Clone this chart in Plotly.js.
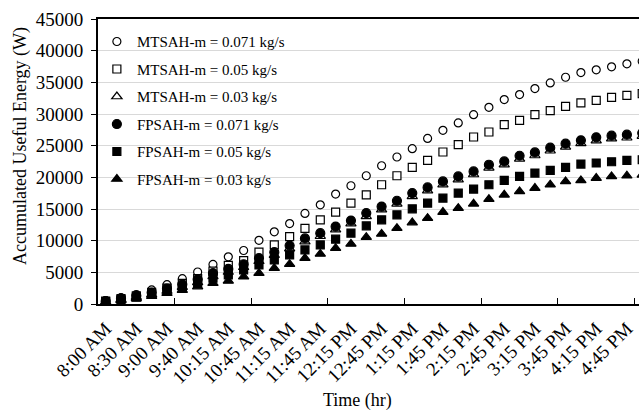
<!DOCTYPE html>
<html>
<head>
<meta charset="utf-8">
<script src="https://cdn.plot.ly/plotly-3.0.1.min.js"></script>
<style>
html, body { margin: 0; padding: 0; overflow: hidden; background: #fff; }
#chart { width: 660px; height: 412px; }
</style>
</head>
<body>
<div id="chart"></div>
<script>
// Categories (time of day)
const times = ["8:00 AM","8:15 AM","8:30 AM","8:45 AM","9:00 AM","9:20 AM","9:40 AM","10:00 AM","10:15 AM","10:30 AM",
  "10:45 AM","11:00 AM","11:15 AM","11:30 AM","11:45 AM","12:00 PM","12:15 PM","12:30 PM","12:45 PM","1:00 PM",
  "1:15 PM","1:30 PM","1:45 PM","2:00 PM","2:15 PM","2:30 PM","2:45 PM","3:00 PM","3:15 PM","3:30 PM",
  "3:45 PM","4:00 PM","4:15 PM","4:30 PM","4:45 PM","5:00 PM"];

// Accumulated useful energy (W) per series
const mtsah071 = [550,1000,1500,2215,3050,4000,5050,6250,7450,8450,10050,11400,12700,14300,15660,17350,18670,20250,21830,23210,24520,26150,27420,28590,29900,31060,32270,33060,34010,34910,35800,36540,36970,37450,37920,38330];
const mtsah05  = [450,850,1300,1850,2500,3250,4000,5200,6100,6850,8180,9330,10650,11950,13290,14510,15930,17240,18830,20250,21560,22670,24000,25150,26370,27160,28320,29000,29900,30530,31210,31750,32160,32640,32950,33220];
const mtsah03  = [350,700,1100,1500,2050,2650,3400,4350,5050,5800,6750,7700,8750,9850,10700,11750,12700,13850,14900,15800,17000,17900,18850,19650,20450,21500,22000,22900,23450,24200,24800,25350,25800,26100,26250,26500];
const fpsah071 = [450,850,1300,1800,2450,3100,3900,4860,5540,6280,7230,8180,9220,10360,11190,12230,13180,14350,15390,16300,17510,18400,19350,20140,20930,21990,22510,23410,23940,24680,25310,25840,26310,26580,26740,27000];
const fpsah05  = [350,700,1100,1550,2050,2650,3350,4070,4590,5380,6170,6960,7750,8540,9330,10240,11190,12340,13290,14080,15030,15930,16720,17510,18150,18830,19510,20140,20680,21090,21560,22100,22260,22460,22670,22780];
const fpsah03  = [250,550,850,1250,1700,2200,2750,3280,3640,4320,4860,5650,6280,7230,7910,8810,9490,10550,11070,11980,12860,13560,14510,15140,15820,16560,17240,17770,18300,18830,19350,19510,19890,20140,20250,20400];

const seriesNames = ["MTSAH-m = 0.071 kg/s","MTSAH-m = 0.05 kg/s","MTSAH-m = 0.03 kg/s",
                     "FPSAH-m = 0.071 kg/s","FPSAH-m = 0.05 kg/s","FPSAH-m = 0.03 kg/s"];
const seriesData = [mtsah071, mtsah05, mtsah03, fpsah071, fpsah05, fpsah03];
const symbols = ["circle","square","triangle-up","circle","square","triangle-up"];
const fills = ["#ffffff","#ffffff","#ffffff","#000000","#000000","#000000"];
const sizes = [8, 8, 9, 9, 8, 9];

// labelled categories: every second one
const tickTimes = times.filter((t, i) => i % 2 === 0);
// tick marks every 5 categories (between categories)
const tickMarks = [];
for (let i = 4.5; i < times.length; i += 5) tickMarks.push(i);

const xr = [-0.5, 36.16];
const font = "Liberation Serif, Times New Roman, serif";

const traces = seriesData.map((d, i) => ({
  type: "scatter", mode: "markers", x: times, y: d, name: seriesNames[i],
  legendgroup: "g" + i,
  marker: { symbol: symbols[i], size: sizes[i], color: fills[i], line: { color: "#000", width: 1.2 } },
  cliponaxis: true
}));
traces.push({ type: "scatter", mode: "markers", x: [], y: [], xaxis: "x2", showlegend: false, hoverinfo: "skip" });

const layout = {
  width: 660, height: 412,
  margin: { l: 98, r: 0, t: 19, b: 108 },
  paper_bgcolor: "#fff", plot_bgcolor: "#fff",
  font: { family: font, color: "#000", size: 18 },
  showlegend: true,
  legend: {
    x: -0.002, y: 0.978, xanchor: "left", yanchor: "top",
    bgcolor: "rgba(0,0,0,0)", borderwidth: 0,
    font: { family: font, size: 15, color: "#000" },
    traceorder: "grouped", tracegroupgap: 5
  },
  xaxis: {
    type: "category", range: xr,
    tickmode: "array", tickvals: tickTimes, ticktext: tickTimes,
    tickangle: -45, ticks: "", showgrid: false,
    showline: true, linecolor: "#000", linewidth: 2, mirror: true,
    ticklabelstandoff: 4,
    tickfont: { family: font, size: 19, color: "#000" },
    zeroline: false, fixedrange: true
  },
  xaxis2: {
    overlaying: "x", anchor: "y", type: "linear", range: xr,
    tickmode: "array", tickvals: tickMarks, ticks: "inside", ticklen: 6, tickwidth: 1, tickcolor: "#000",
    showticklabels: false, showgrid: false, showline: false, zeroline: false
  },
  yaxis: {
    range: [0, 45000], dtick: 5000, tick0: 0, tickformat: "d",
    ticks: "outside", ticklen: 5, tickwidth: 1, tickcolor: "#000",
    showgrid: true, gridcolor: "#d9d9d9", gridwidth: 1,
    showline: true, linecolor: "#000", linewidth: 2, mirror: true,
    zeroline: false, ticklabelstandoff: 4,
    tickfont: { family: font, size: 19, color: "#000" }
  },
  annotations: [
    { text: "Accumulated Useful Energy (W)", textangle: -90, xref: "paper", yref: "paper",
      x: (20 - 98) / 562, y: (304 - 146) / 285, xanchor: "center", yanchor: "middle", showarrow: false,
      font: { family: font, size: 18, color: "#000" } },
    { text: "Time (hr)", xref: "paper", yref: "paper",
      x: (357 - 98) / 562, y: (304 - 400) / 285, xanchor: "center", yanchor: "middle", showarrow: false,
      font: { family: font, size: 18, color: "#000" } }
  ]
};

Plotly.newPlot("chart", traces, layout, { staticPlot: true, displayModeBar: false });
</script>
</body>
</html>
